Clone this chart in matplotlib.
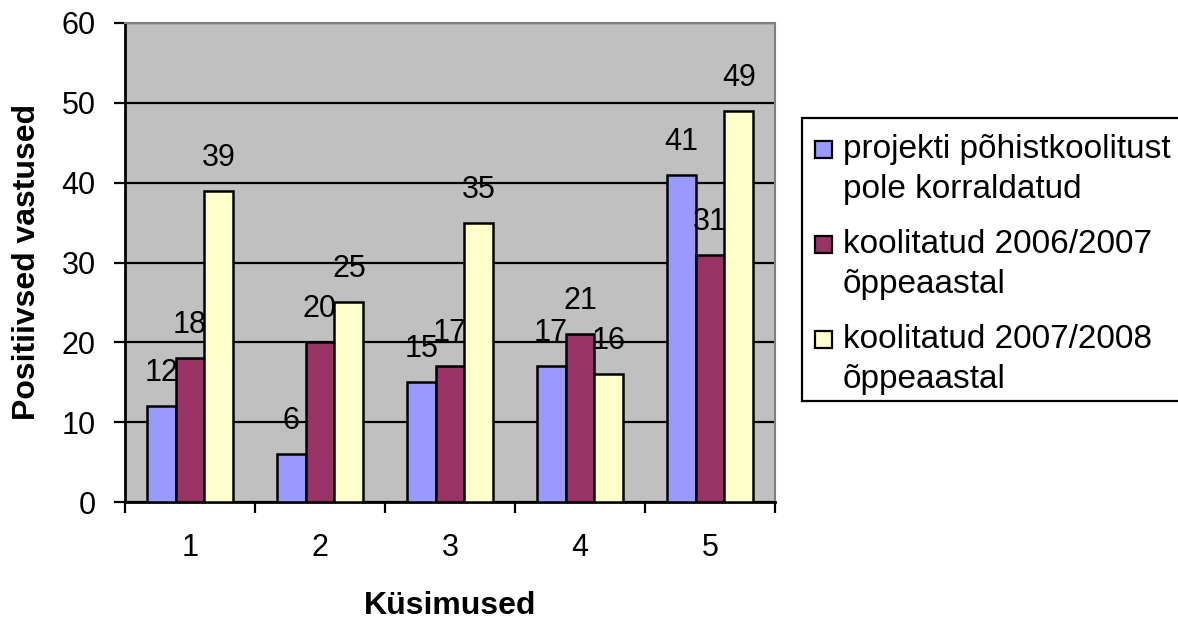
import matplotlib
matplotlib.use("Agg")
import matplotlib.pyplot as plt
from matplotlib.patches import Rectangle
import numpy as np

plt.rcParams['font.family'] = ['Liberation Sans', 'DejaVu Sans']

questions = ['1', '2', '3', '4', '5']
series_names = ['projekti põhistkoolitust\npole korraldatud',
                'koolitatud 2006/2007\nõppeaastal',
                'koolitatud 2007/2008\nõppeaastal']
not_trained = [12, 6, 15, 17, 41]
trained_0607 = [18, 20, 17, 21, 31]
trained_0708 = [39, 25, 35, 16, 49]
series_values = [not_trained, trained_0607, trained_0708]
colors = ['#9999FF', '#993366', '#FFFFCC']

W, H = 1178, 621
fig = plt.figure(figsize=(W / 100, H / 100), dpi=100)
fig.patch.set_facecolor('white')

# plot area in pixels: left 125, right 775, top 23, bottom 502
ax = fig.add_axes([125 / W, (H - 502) / H, 650 / W, 479 / H])
ax.set_facecolor('#C0C0C0')

x = np.arange(1, len(questions) + 1)
bw = 1 / 4.5
for i, (vals, col) in enumerate(zip(series_values, colors)):
    pos = x + (i - 1) * bw
    ax.bar(pos, vals, width=bw, color=col, edgecolor='black', linewidth=1.8, zorder=3)
    for px, v in zip(pos, vals):
        ax.annotate(str(v), (px, v), xytext=(0, 18), textcoords='offset points',
                    ha='center', va='baseline', fontsize=22, zorder=4)

ax.set_xlim(0.5, len(questions) + 0.5)
ax.set_ylim(0, 60)
ax.set_yticks(range(0, 61, 10))
ax.yaxis.grid(True, color='black', linewidth=1.6, zorder=1)
ax.set_axisbelow(True)

ax.tick_params(axis='y', direction='out', length=8, width=1.6, pad=13, labelsize=22)
ax.set_xticks(x)
ax.set_xticklabels(questions)
ax.set_xticks(np.arange(0.5, len(questions) + 1), minor=True)
ax.tick_params(axis='x', which='major', length=0, pad=22, labelsize=22)
ax.tick_params(axis='x', which='minor', direction='out', length=8, width=1.6)

for s in ['left', 'bottom']:
    ax.spines[s].set_color('black')
    ax.spines[s].set_linewidth(2)
for s in ['top', 'right']:
    ax.spines[s].set_color('#808080')
    ax.spines[s].set_linewidth(1.5)

fig.text(450 / W, 1 - 606 / H, 'Küsimused', ha='center', va='center',
         fontsize=23, fontweight='bold')
fig.text(27 / W, 1 - 262 / H, 'Positiivsed vastused', ha='center', va='center',
         rotation=90, fontsize=23, fontweight='bold')

# legend box (runs off the right edge as in the original)
fig.patches.append(Rectangle((802 / W, 1 - 401 / H), 400 / W, 283 / H,
                             transform=fig.transFigure, facecolor='white',
                             edgecolor='black', linewidth=1.6, clip_on=False))
for i, (name, col) in enumerate(zip(series_names, colors)):
    yc = 150 + i * 95
    fig.patches.append(Rectangle((815 / W, 1 - (yc + 8) / H), 17 / W, 17 / H,
                                 transform=fig.transFigure, facecolor=col,
                                 edgecolor='black', linewidth=1.6))
    fig.text(843 / W, 1 - (yc - 16) / H, name, ha='left', va='top',
             fontsize=24, linespacing=1.38)

fig.savefig('out.png', dpi=100)
